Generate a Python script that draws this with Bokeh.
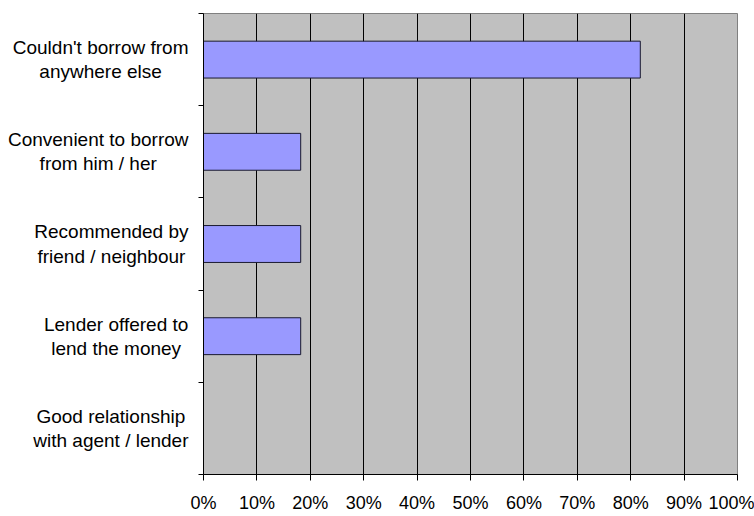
from bokeh.plotting import figure
from bokeh.layouts import row
from bokeh.models import FixedTicker, NumeralTickFormatter, Range1d, ColumnDataSource
from bokeh.core.properties import value
from bokeh.embed import file_html
from bokeh.resources import INLINE

# ---- data ----
categories = [
    "Couldn't borrow from\nanywhere else",
    "Convenient to borrow\nfrom him / her",
    "Recommended by\nfriend / neighbour",
    "Lender offered to\nlend the money",
    "Good relationship\nwith agent / lender",
]
shares = [0.818, 0.182, 0.182, 0.182, 0.0]
x_ticks = [0.0, 0.1, 0.2, 0.3, 0.4, 0.5, 0.6, 0.7, 0.8, 0.9, 1.0]

FONT = "Liberation Sans"
CAT_SIZE = 19
LABEL_PANEL_W = 189      # width of the label panel (px)
LABEL_RIGHT = 188        # right edge of the label blocks (px)
FRAME_LEFT = 203         # page x of the plot frame's left edge

# Liberation Sans (Arial-metric) advance widths, per 1000 em, used to right-align
# multi-line category blocks while centring their lines (Excel style).
_W = {" ": 278, "'": 191, "/": 278, "a": 556, "b": 556, "c": 500, "d": 556, "e": 556,
      "f": 278, "g": 556, "h": 556, "i": 222, "l": 222, "m": 833, "n": 556, "o": 556,
      "p": 556, "r": 333, "s": 500, "t": 278, "u": 556, "v": 500, "w": 722, "y": 500,
      "C": 722, "G": 778, "L": 556, "R": 722}


def text_width(s, size):
    return sum(_W.get(ch, 556) for ch in s) * size / 1000.0


n = len(categories)
ypos = [n - 0.5 - i for i in range(n)]
block_w = [max(text_width(line, CAT_SIZE) for line in c.split("\n")) for c in categories]
label_x = [LABEL_RIGHT - w / 2.0 for w in block_w]
src = ColumnDataSource(dict(y=ypos, right=shares, cat=categories, lx=label_x))

yr = Range1d(0, n)

# ---- label panel (category names) ----
lp = figure(width=LABEL_PANEL_W, height=516, output_backend="svg", toolbar_location=None,
            x_range=Range1d(0, LABEL_PANEL_W), y_range=yr,
            x_axis_type=None, y_axis_type=None,
            min_border_left=0, min_border_right=0, min_border_top=13, min_border_bottom=42)
lp.outline_line_color = None
lp.background_fill_color = "white"
lp.border_fill_color = "white"
lp.xgrid.visible = False
lp.ygrid.visible = False
lp.text(x="lx", y="y", text="cat", source=src,
        text_align="center", text_baseline="middle",
        text_font=value(FONT), text_font_size=f"{CAT_SIZE}px",
        text_color="black", text_line_height=1.15)

# ---- main chart ----
p = figure(width=754 - LABEL_PANEL_W, height=516, output_backend="svg", toolbar_location=None,
           x_range=Range1d(0, 1), y_range=yr,
           min_border_left=FRAME_LEFT - LABEL_PANEL_W, min_border_right=17,
           min_border_top=13, min_border_bottom=42)

p.background_fill_color = "#C0C0C0"
p.border_fill_color = "white"
p.outline_line_color = "#808080"
p.outline_line_width = 1

p.hbar(y="y", right="right", left=0, height=0.4, source=src,
       fill_color="#9999FF", line_color="#1a1a2e", line_width=1)

# x axis
xa = p.xaxis[0]
xa.ticker = FixedTicker(ticks=x_ticks)
xa.formatter = NumeralTickFormatter(format="0%")
xa.axis_line_color = "black"
xa.major_tick_line_color = "black"
xa.major_tick_out = 6
xa.major_tick_in = 0
xa.minor_tick_line_color = None
xa.major_label_text_font = FONT
xa.major_label_text_font_size = "18px"
xa.major_label_text_color = "black"
xa.major_label_standoff = 12

# y axis: ticks at category boundaries; names live in the label panel
ya = p.yaxis[0]
ya.ticker = FixedTicker(ticks=[], minor_ticks=list(range(n + 1)))
ya.axis_line_color = "black"
ya.major_tick_line_color = None
ya.major_tick_out = 0
ya.major_tick_in = 0
ya.minor_tick_line_color = "black"
ya.minor_tick_out = 5
ya.minor_tick_in = 0
ya.major_label_text_font_size = "0px"
ya.major_label_standoff = 0

p.xgrid.ticker = FixedTicker(ticks=x_ticks)
p.xgrid.grid_line_color = "black"
p.xgrid.grid_line_width = 1
p.ygrid.grid_line_color = None

layout = row(lp, p, spacing=0)
open("out.html", "w").write(file_html(layout, INLINE))
